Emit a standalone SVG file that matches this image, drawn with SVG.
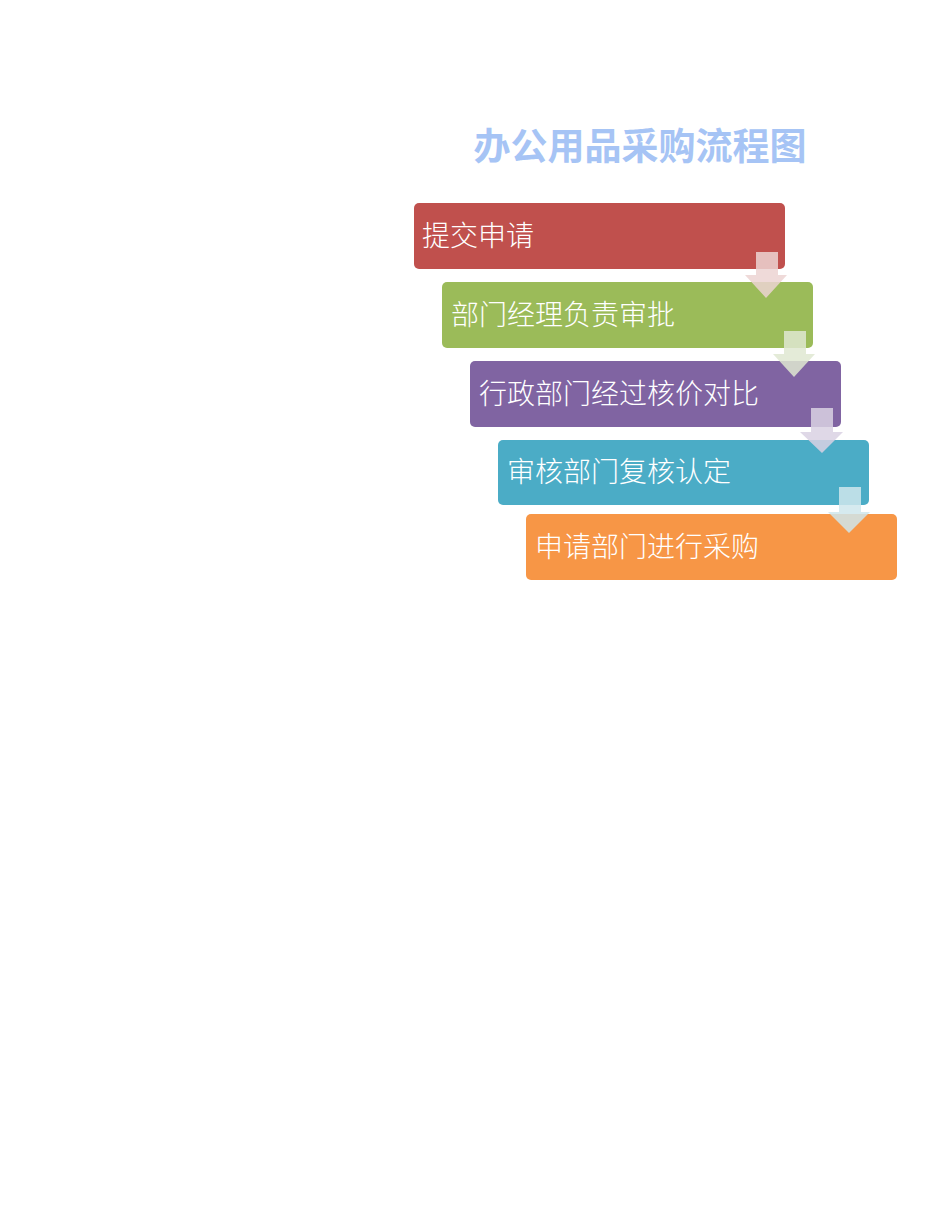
<svg xmlns="http://www.w3.org/2000/svg" width="950" height="1230" viewBox="0 0 950 1230">
<style>
.box{stroke:none}
.lbl{font-family:"Noto Sans CJK SC","Noto Sans",sans-serif;font-size:28px;font-weight:300;fill:#ffffff}
.title{font-family:"Noto Sans CJK SC","Noto Sans",sans-serif;font-size:37px;font-weight:bold;fill:#a6c4f5}
.arr{opacity:0.85}
</style>
<rect width="950" height="1230" fill="#ffffff"/>
<text class="title" x="640" y="160" text-anchor="middle">办公用品采购流程图</text>
<g id="n1"><rect class="box" x="414" y="203" width="371" height="66" rx="5" fill="#c0504d"/><text class="lbl" x="422" y="246">提交申请</text></g>
<g id="n2"><rect class="box" x="442" y="282" width="371" height="66" rx="5" fill="#9bbb59"/><text class="lbl" x="451" y="325">部门经理负责审批</text></g>
<g id="n3"><rect class="box" x="470" y="361" width="371" height="66" rx="5" fill="#8064a2"/><text class="lbl" x="479" y="404">行政部门经过核价对比</text></g>
<g id="n4"><rect class="box" x="498" y="440" width="371" height="65" rx="5" fill="#4bacc6"/><text class="lbl" x="507" y="482">审核部门复核认定</text></g>
<g id="n5"><rect class="box" x="526" y="514" width="371" height="66" rx="5" fill="#f79646"/><text class="lbl" x="535" y="557">申请部门进行采购</text></g>
<g id="connectors">
<polygon class="arr" fill="#ecd3d2" points="756,252 778,252 778,275 787,275 766,298 745,275 756,275"/>
<polygon class="arr" fill="#dfe8d1" points="784,331 806,331 806,354 815,354 794,377 773,354 784,354"/>
<polygon class="arr" fill="#d9d1e3" points="811,408 833,408 833,432 843,432 822,453 800,432 811,432"/>
<polygon class="arr" fill="#cfe6ec" points="839,487 861,487 861,512 870,512 849,533 828,512 839,512"/>
</g>
</svg>
